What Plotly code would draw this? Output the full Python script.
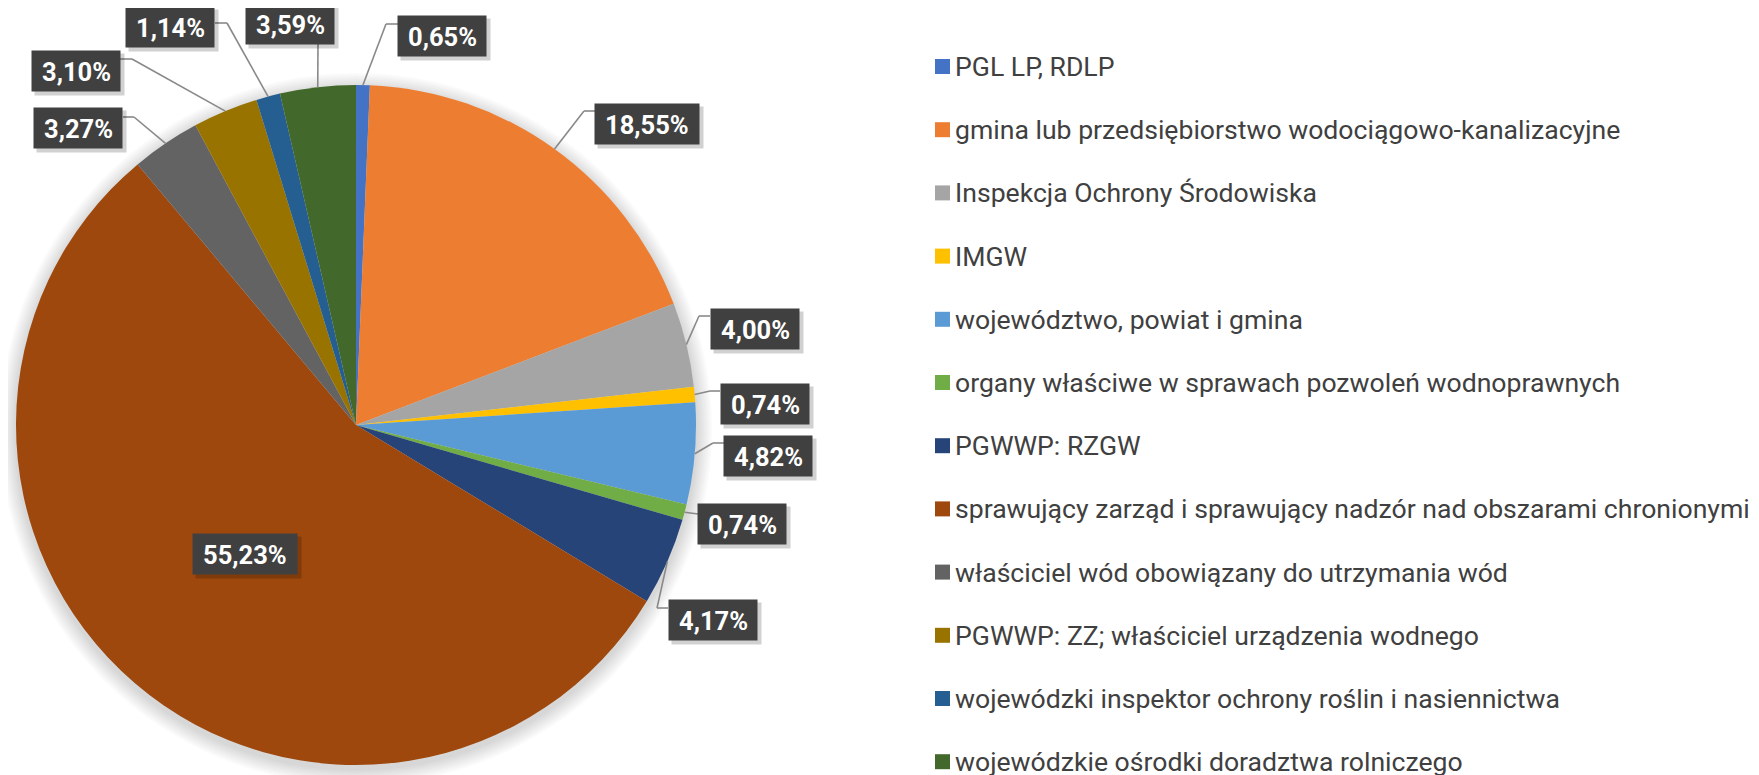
import math
import plotly.graph_objects as go

# ---------------- data ----------------
categories = [
    "PGL LP, RDLP",
    "gmina lub przedsiębiorstwo wodociągowo-kanalizacyjne",
    "Inspekcja Ochrony Środowiska",
    "IMGW",
    "województwo, powiat i gmina",
    "organy właściwe w sprawach pozwoleń wodnoprawnych",
    "PGWWP: RZGW",
    "sprawujący zarząd i sprawujący nadzór nad obszarami chronionymi",
    "właściciel wód obowiązany do utrzymania wód",
    "PGWWP: ZZ; właściciel urządzenia wodnego",
    "wojewódzki inspektor ochrony roślin i nasiennictwa",
    "wojewódzkie ośrodki doradztwa rolniczego",
]
shares = [0.65, 18.55, 4.00, 0.74, 4.82, 0.74, 4.17, 55.23, 3.27, 3.10, 1.14, 3.59]
colors = ["#4472C4", "#ED7D31", "#A5A5A5", "#FFC000", "#5B9BD5", "#70AD47",
          "#264478", "#9E480E", "#636363", "#997300", "#255E91", "#43682B"]

# ---------------- layout geometry (screen pixels) ----------------
W, H = 1759, 775
OFF = 8  # page body margin
CX, CY, R = 356, 425, 340

# label box centres and leader waypoints (after the slice point)
label_layout = [
    ((442, 36), [(386, 24), (398, 24)]),
    ((647, 124), [(584, 111), (595, 111)]),
    ((755, 329), [(699, 316), (710, 316)]),
    ((765, 404), [(710, 391), (720, 391)]),
    ((768, 456), [(713, 443), (724, 443)]),
    ((742, 524), [(698, 514)]),
    ((713, 620), [(657, 608), (668, 608)]),
    ((245, 554), None),
    ((78, 128), [(134, 117), (123, 117)]),
    ((76, 71), [(132, 59), (120, 59)]),
    ((170, 27), [(227, 23), (215, 23)]),
    ((290, 24), [(318, 44)]),
]


def fx(x):
    return (x - OFF) / W


def fy(y):
    return 1 - (y - OFF) / H


fig = go.Figure()
fig.add_trace(go.Pie(
    labels=categories,
    values=shares,
    sort=False,
    direction="clockwise",
    rotation=0,
    marker=dict(colors=colors, line=dict(width=0)),
    textinfo="none",
    hoverinfo="label+percent",
    showlegend=False,
    domain=dict(x=[fx(CX - R), fx(CX + R)], y=[fy(CY + R), fy(CY - R)]),
))

shapes = []
annotations = []

# soft shadow behind the pie
for k in range(8):
    rr = R + 2 + k * 2
    shapes.append(dict(type="circle", xref="paper", yref="paper", layer="below",
                       x0=fx(CX - rr), x1=fx(CX + rr),
                       y0=fy(CY + 4 + rr), y1=fy(CY + 4 - rr),
                       fillcolor="rgba(0,0,0,0.018)", line=dict(width=0)))

total = sum(shares)
cum = 0.0
for v, (centre, path) in zip(shares, label_layout):
    mid = (cum + v / 2) / total * 2 * math.pi
    cum += v
    sx = CX + R * math.sin(mid)
    sy = CY - R * math.cos(mid)
    txt = f"{v:.2f}".replace(".", ",") + "%"
    bw = 89 + 16 * (len(txt) - 5)
    bh = 41
    bx, by = centre
    if path:
        pts = [(sx, sy)] + path
        for (x0, y0), (x1, y1) in zip(pts[:-1], pts[1:]):
            shapes.append(dict(type="line", xref="paper", yref="paper", layer="above",
                               x0=fx(x0), y0=fy(y0), x1=fx(x1), y1=fy(y1),
                               line=dict(color="#898989", width=1.6)))
    # drop shadow of the label box
    shapes.append(dict(type="rect", xref="paper", yref="paper", layer="above",
                       x0=fx(bx - bw / 2 + 3), x1=fx(bx + bw / 2 + 4),
                       y0=fy(by + bh / 2 + 4), y1=fy(by - bh / 2 + 3),
                       fillcolor="rgba(0,0,0,0.18)", line=dict(width=0)))
    shapes.append(dict(type="rect", xref="paper", yref="paper", layer="above",
                       x0=fx(bx - bw / 2), x1=fx(bx + bw / 2),
                       y0=fy(by + bh / 2), y1=fy(by - bh / 2),
                       fillcolor="#404040", line=dict(width=0)))
    annotations.append(dict(text=f"<b>{txt}</b>", x=fx(bx), y=fy(by + 1),
                            xref="paper", yref="paper", showarrow=False,
                            xanchor="center", yanchor="middle",
                            font=dict(family="Roboto", size=25.5, color="#FFFFFF")))

# custom legend
LX, LY0, LDY = 935, 66.5, 63.2
for i, (cat, col) in enumerate(zip(categories, colors)):
    y = LY0 + i * LDY
    shapes.append(dict(type="rect", xref="paper", yref="paper",
                       x0=fx(LX), x1=fx(LX + 15), y0=fy(y + 7.5), y1=fy(y - 7.5),
                       fillcolor=col, line=dict(width=0)))
    annotations.append(dict(text=cat, x=fx(LX + 18), y=fy(y), xref="paper", yref="paper",
                            showarrow=False, xanchor="left", yanchor="middle",
                            font=dict(family="Roboto", size=26.6, color="#404040")))

fig.update_layout(
    width=W, height=H,
    margin=dict(l=0, r=0, t=0, b=0),
    paper_bgcolor="#FFFFFF",
    plot_bgcolor="#FFFFFF",
    shapes=shapes,
    annotations=annotations,
    showlegend=False,
)

fig.write_html("out.html")
